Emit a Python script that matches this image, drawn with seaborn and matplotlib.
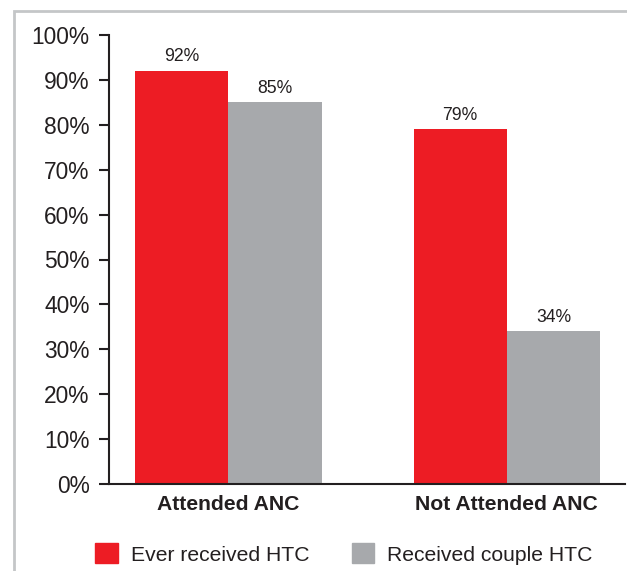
import matplotlib
matplotlib.use("Agg")
import matplotlib.pyplot as plt
from matplotlib.patches import Rectangle
import seaborn as sns
import pandas as pd

# Chart data
categories = ["Attended ANC", "Not Attended ANC"]
series_names = ["Ever received HTC", "Received couple HTC"]
ever_received = [92, 79]
couple_received = [85, 34]
y_ticks = [0, 10, 20, 30, 40, 50, 60, 70, 80, 90, 100]

red = "#ED1C24"
grey = "#A7A9AC"
ink = "#231F20"

df = pd.DataFrame({
    "group": categories * 2,
    "series": [series_names[0]] * 2 + [series_names[1]] * 2,
    "value": ever_received + couple_received,
})

sns.set_theme(style="white")
plt.rcParams["font.family"] = ["Liberation Sans", "DejaVu Sans"]

fig = plt.figure(figsize=(6.27, 5.71), dpi=100)
ax = fig.add_axes([109 / 627, 1 - 484 / 571, 516 / 627, 449 / 571])

sns.barplot(data=df, x="group", y="value", hue="series", order=categories,
            hue_order=series_names, palette=[red, grey], width=0.67,
            saturation=1, ax=ax, legend=False, edgecolor="none")

for container in ax.containers:
    ax.bar_label(container, labels=[f"{v:.0f}%" for v in container.datavalues],
                 padding=4, fontsize=12.7, color=ink)

ax.set_xlim(-0.428, 1.424)
ax.set_ylim(0, 100)
ax.set_yticks(y_ticks)
ax.set_yticklabels([f"{t}%" for t in y_ticks], fontsize=16.4, color=ink)
ax.set_xticks([0, 1])
ax.set_xticklabels(categories, fontsize=15.2, fontweight="bold", color=ink)
ax.set_xticks([-0.428, 1.424], minor=True)
ax.tick_params(axis="x", which="major", length=0, pad=8)
ax.tick_params(axis="x", which="minor", length=8, width=1.5, color=ink, direction="out")
ax.tick_params(axis="y", length=7, width=1.5, color=ink, direction="out", pad=7, left=True)
ax.set_xlabel("")
ax.set_ylabel("")

for side in ["top", "right"]:
    ax.spines[side].set_visible(False)
for side in ["left", "bottom"]:
    ax.spines[side].set_color(ink)
    ax.spines[side].set_linewidth(1.5)

# Legend below the plot
handles = [Rectangle((0, 0), 1, 1, color=red), Rectangle((0, 0), 1, 1, color=grey)]
fig.legend(handles, series_names, loc="center", bbox_to_anchor=(344 / 627, 1 - 554 / 571),
           ncol=2, frameon=False, fontsize=15.2, handlelength=1.08, handleheight=1.08,
           handletextpad=0.6, columnspacing=2.0, labelcolor=ink)

# Outer frame
fig.patches.append(Rectangle((14 / 627, -0.1), 1.2, 1 - 11 / 571 + 0.1,
                             transform=fig.transFigure, fill=False,
                             edgecolor="#C4C6C8", linewidth=2.0, zorder=0))

fig.savefig("out.png", dpi=100)
